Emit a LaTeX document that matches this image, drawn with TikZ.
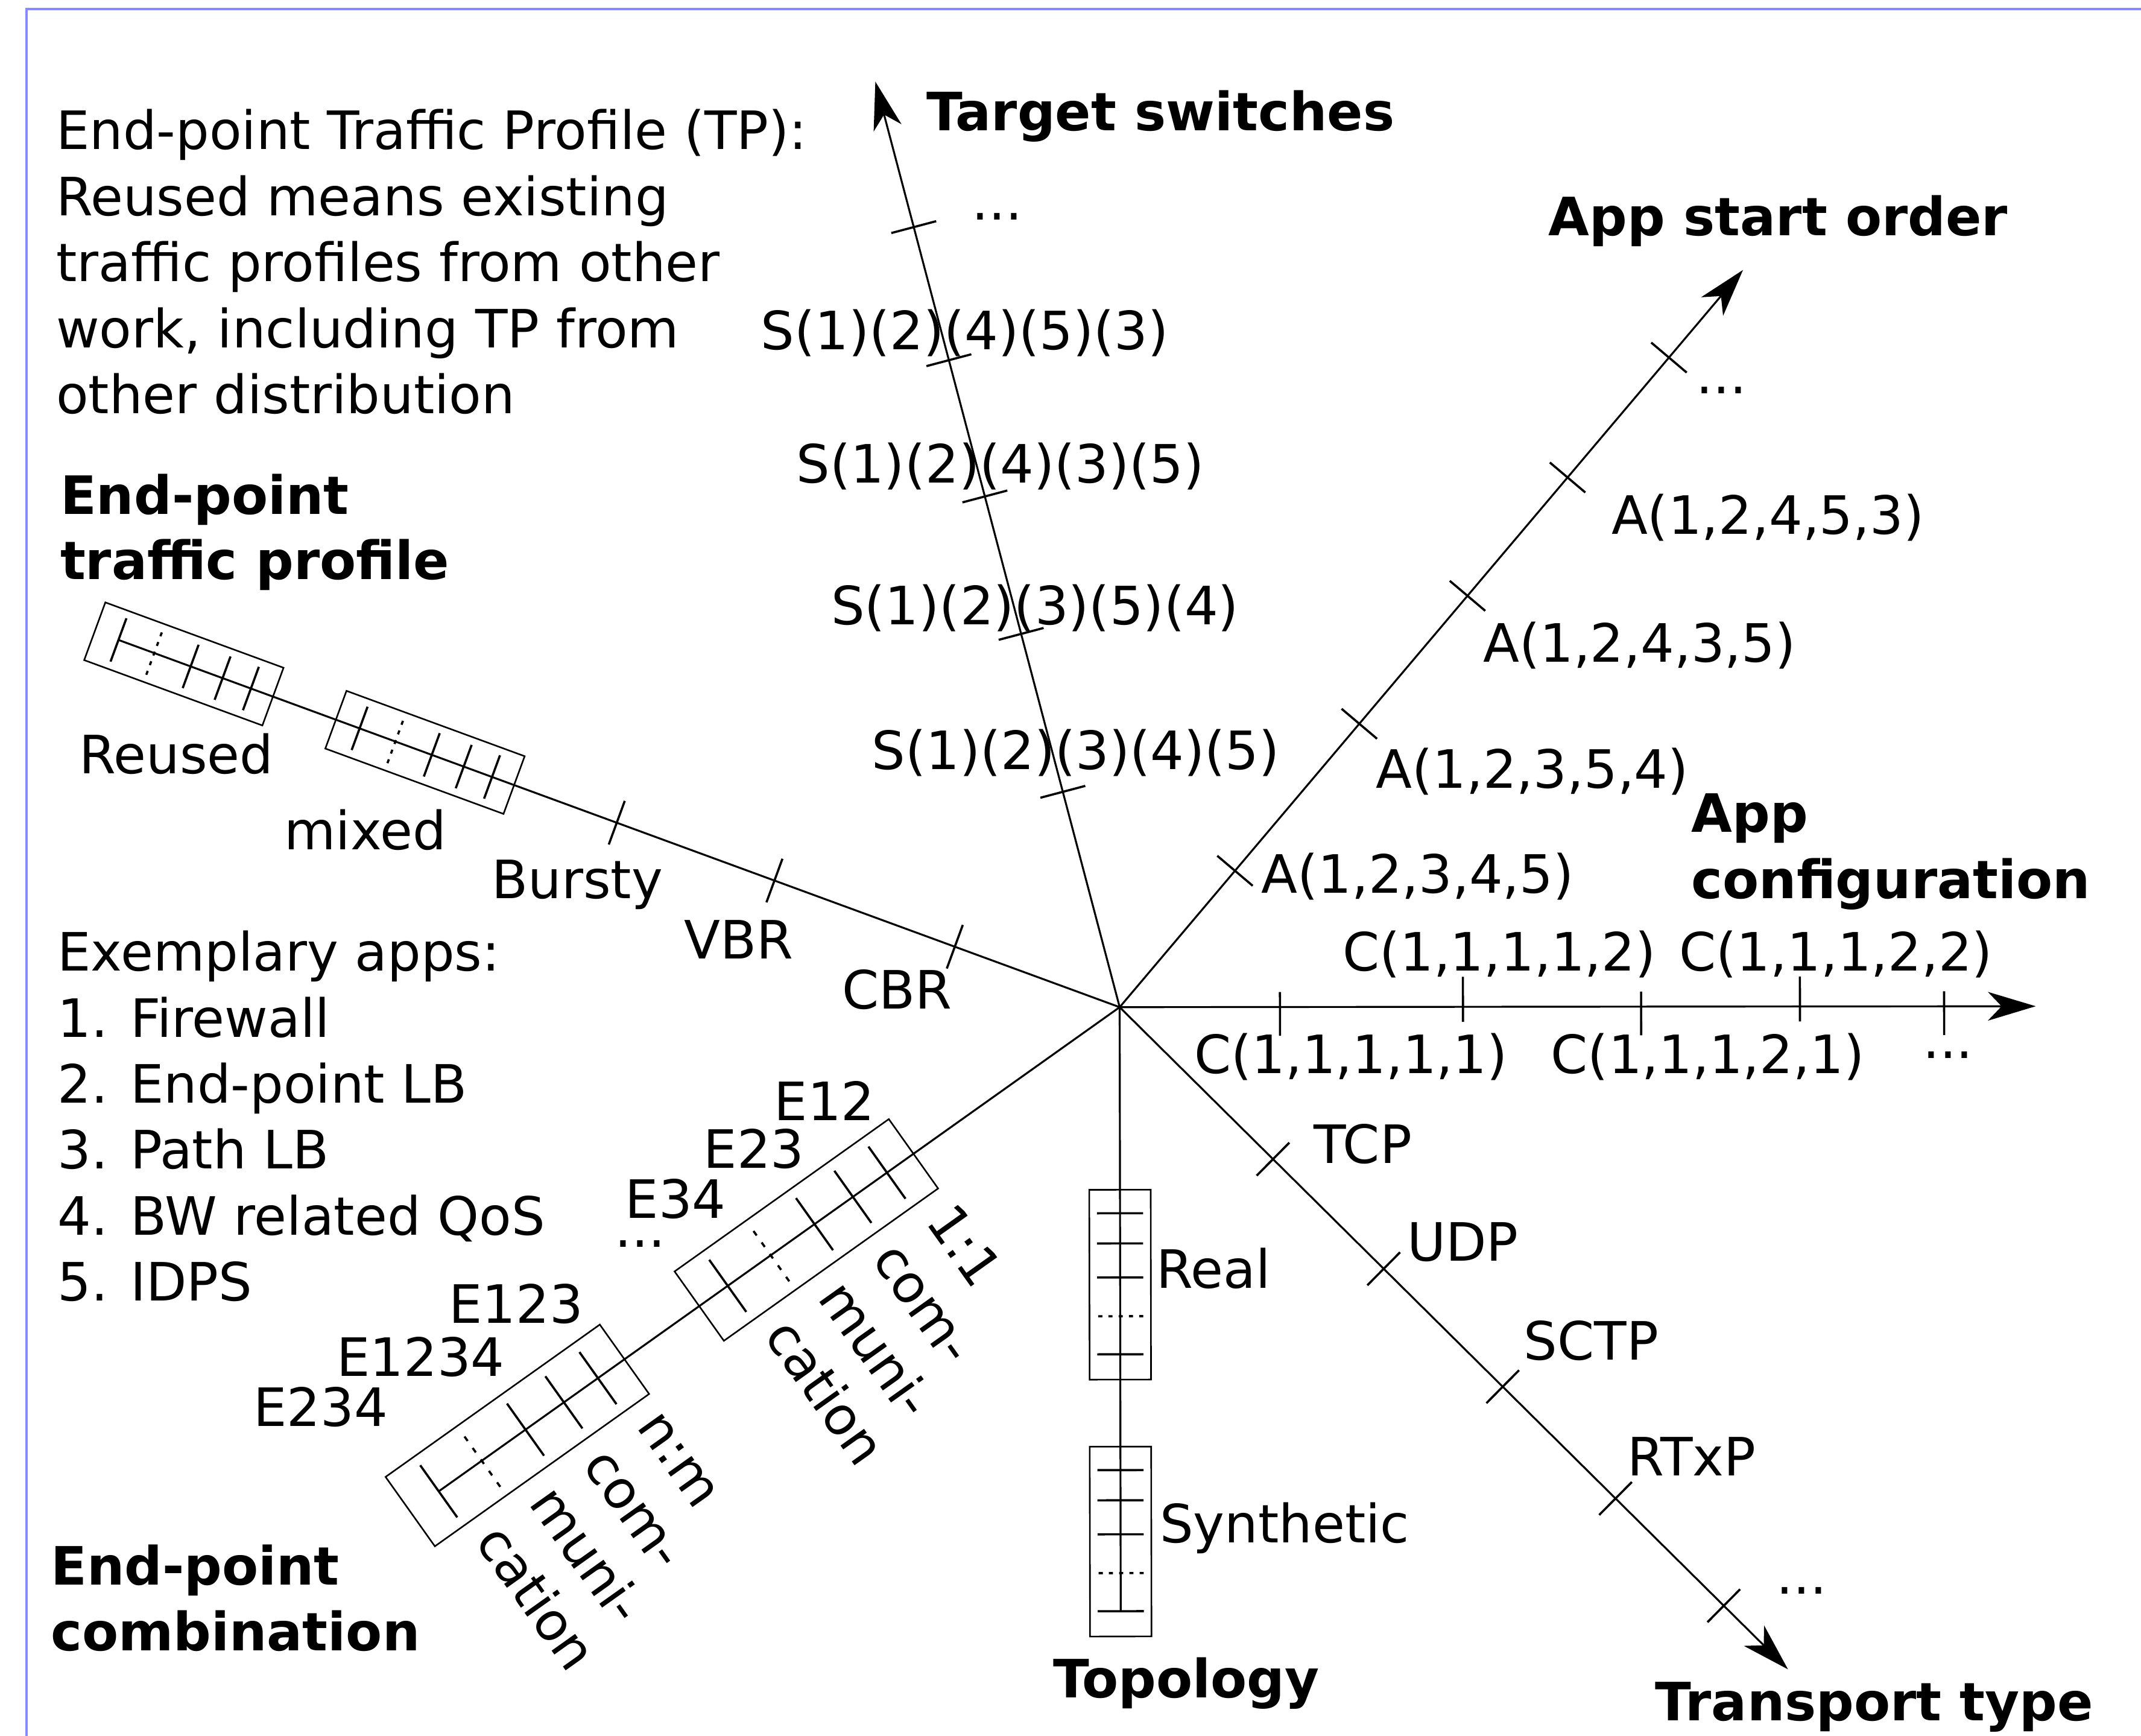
\documentclass[tikz,border=0pt]{standalone}
\usepackage{fontspec}
\setmainfont{DejaVu Sans}
\usetikzlibrary{arrows.meta}
\definecolor{framecol}{RGB}{136,136,255}
\tikzset{
  axisline/.style={line width=1.4pt},
  tipped/.style={-{Stealth[length=35pt,width=21pt,inset=10pt]}},
  boxline/.style={line width=1.15pt},
  tickline/.style={line width=1.6pt},
  smalldots/.style={dash pattern=on 3pt off 4.5pt},
  bigdots/.style={dash pattern=on 4pt off 6.3pt},
  lbl/.style={font=\fontsize{38.7}{48.4}\selectfont, inner sep=0pt, anchor=base west},
  ttl/.style={lbl, font=\fontsize{38.7}{48.4}\selectfont\bfseries},
}
% box with ticks, drawn in a scope whose x axis runs along an axis
% #1 distance of near end from centre, #2 scale, #3 dash style
\newcommand\tickbox[3]{%
  \begin{scope}[xshift=#1pt, scale=#2]
    \draw[boxline] (0,-22.5) rectangle (139,22.5);
    \foreach \t in {17.2,39.3,64.2,120.5}
      \draw[tickline] (\t,-16.9) -- (\t,16.9);
    \draw[tickline,#3] (92.6,-16.9) -- (92.6,16.9);
  \end{scope}}
\begin{document}
\begin{tikzpicture}[x=1pt,y=-1pt]
\useasboundingbox (0,0) rectangle (1568,1271);
\draw[framecol, line width=1.7pt] (19.4,1275) -- (19.4,6.8) -- (1572,6.8);

\coordinate (O) at (820,737.5);

% ---- Target switches
\begin{scope}[shift={(O)}, rotate=104.79]
  \coordinate (tsEnd) at (701,0);
  \foreach \s in {163.1,282.7,386.8,490,590.8}
    \draw[tickline] (\s,-17) -- (\s,17);
\end{scope}
\draw[axisline,tipped] (O) -- (tsEnd);

% ---- App start order
\begin{scope}[shift={(O)}, rotate=49.78]
  \coordinate (asEnd) at (707,0);
  \foreach \s in {130.8,271.8,394.5,508,623}
    \draw[tickline] (\s,-17) -- (\s,17);
\end{scope}
\draw[axisline,tipped] (O) -- (asEnd);

% ---- App configuration
\begin{scope}[shift={(O)}, rotate=0.06]
  \coordinate (acEnd) at (670.9,0);
  \foreach \s in {117.4,381.9,603.8}
    \draw[tickline] (\s,-11) -- (\s,21);
  \foreach \s in {251.4,498.2}
    \draw[tickline] (\s,-22) -- (\s,11);
\end{scope}
\draw[axisline,tipped] (O) -- (acEnd);

% ---- Transport type
\begin{scope}[shift={(O)}, rotate=-44.73]
  \coordinate (ttEnd) at (689,0);
  \foreach \s in {158.1,272.2,394.9,511.2,622.8}
    \draw[tickline] (\s,-17) -- (\s,17);
\end{scope}
\draw[axisline,tipped] (O) -- (ttEnd);

% ---- Topology
\begin{scope}[shift={(O)}, rotate=-89.9]
  \coordinate (toEnd) at (442.3,0);
  \tickbox{133.7}{1}{smalldots}
  \tickbox{321.8}{1}{smalldots}
\end{scope}
\draw[axisline] (O) -- (toEnd);

% ---- End-point combination
\begin{scope}[shift={(O)}, rotate=-144.59]
  \coordinate (ecEnd) at (611.9,0);
  \tickbox{185.3}{1.385}{bigdots}
  \tickbox{445}{1.385}{bigdots}
  \foreach \t [count=\k from 0] in {1:1,com-,muni-,cation}
    \node[lbl,rotate=-54.59] (one\k) at ({185.3+22+48.4*\k},-45) {\t};
  \foreach \t [count=\k from 0] in {n:m,com-,muni-,cation}
    \node[lbl,rotate=-54.59] (nm\k) at ({445+22+48.4*\k},-45) {\t};
\end{scope}
\draw[axisline] (O) -- (ecEnd);

% ---- End-point traffic profile
\begin{scope}[shift={(O)}, rotate=159.86]
  \coordinate (tpEnd) at (781,0);
  \foreach \s in {128.6,269.3,392.3}
    \draw[tickline] (\s,-17) -- (\s,17);
  \tickbox{472.4}{1}{smalldots}
  \tickbox{660.5}{1}{smalldots}
\end{scope}
\draw[axisline] (O) -- (tpEnd);

% ---- texts: top-left note
\foreach \t [count=\k from 0] in {{End-point Traffic Profile (TP):},{Reused means existing},{traffic profiles from other},{work, including TP from},{other distribution}}
  \node[lbl] (note\k) at (41,{109.3+48.4*\k}) {\t};

% traffic profile
\node[ttl] (tpA) at (44,376.4) {End-point};
\node[ttl] (tpB) at (44,424.4) {traffic profile};
\node[lbl] (reused) at (58,566.4) {Reused};
\node[lbl] (mixed) at (208,622.2) {mixed};
\node[lbl] (bursty) at (360,657.7) {Bursty};
\node[lbl] (vbr) at (501,702) {VBR};
\node[lbl] (cbr) at (616.5,738.8) {CBR};

% exemplary apps
\foreach \t [count=\k from 0] in {{Exemplary apps:},{1. Firewall},{2. End-point LB},{3. Path LB},{4. BW related QoS},{5. IDPS}}
  \node[lbl] (apps\k) at (42,{711+48.3*\k}) {\t};

% target switches
\node[ttl] (tsT) at (678.3,95.8) {Target switches};
\node[lbl] (ts5) at (711.5,161) {...};
\node[lbl] (ts4) at (557,255.8) {S(1)(2)(4)(5)(3)};
\node[lbl] (ts3) at (583,353.5) {S(1)(2)(4)(3)(5)};
\node[lbl] (ts2) at (608.5,457.4) {S(1)(2)(3)(5)(4)};
\node[lbl] (ts1) at (638.3,563.3) {S(1)(2)(3)(4)(5)};

% app start order
\node[ttl] (asT) at (1134,172.4) {App start order};
\node[lbl] (as5) at (1242,288) {...};
\node[lbl] (as4) at (1180,390.9) {A(1,2,4,5,3)};
\node[lbl] (as3) at (1086,484.7) {A(1,2,4,3,5)};
\node[lbl] (as2) at (1007.5,577) {A(1,2,3,5,4)};
\node[lbl] (as1) at (923.5,653.9) {A(1,2,3,4,5)};

% app configuration
\node[ttl] (acTa) at (1238.5,609.5) {App};
\node[ttl] (acTb) at (1238.5,657.7) {configuration};
\node[lbl] (ac2) at (983,710.9) {C(1,1,1,1,2)};
\node[lbl] (ac4) at (1229.7,710.9) {C(1,1,1,2,2)};
\node[lbl] (ac1) at (874.4,786) {C(1,1,1,1,1)};
\node[lbl] (ac3) at (1135.7,786) {C(1,1,1,2,1)};
\node[lbl] (ac5) at (1408,774.8) {...};

% transport type
\node[lbl] (tt1) at (962,852) {TCP};
\node[lbl] (tt2) at (1030.3,923.3) {UDP};
\node[lbl] (tt3) at (1115.9,995.6) {SCTP};
\node[lbl] (tt4) at (1191.7,1080.8) {RTxP};
\node[lbl] (tt5) at (1300.8,1167) {...};
\node[ttl] (ttT) at (1212,1259.9) {Transport type};

% topology
\node[lbl] (real) at (846.7,943.2) {Real};
\node[lbl] (synth) at (849.3,1129.6) {Synthetic};
\node[ttl] (toT) at (771,1243.3) {Topology};

% end-point combination
\node[lbl] (e12) at (566.8,820.5) {E12};
\node[lbl] (e23) at (515.2,855.4) {E23};
\node[lbl] (e34) at (457.7,891.8) {E34};
\node[lbl] (edots) at (450.2,913.4) {...};
\node[lbl] (e123) at (328.5,968.8) {E123};
\node[lbl] (e1234) at (246.4,1007.9) {E1234};
\node[lbl] (e234) at (185.5,1044.4) {E234};
\node[ttl] (ecA) at (37,1160.4) {End-point};
\node[ttl] (ecB) at (37,1208.5) {combination};
\end{tikzpicture}
\end{document}
